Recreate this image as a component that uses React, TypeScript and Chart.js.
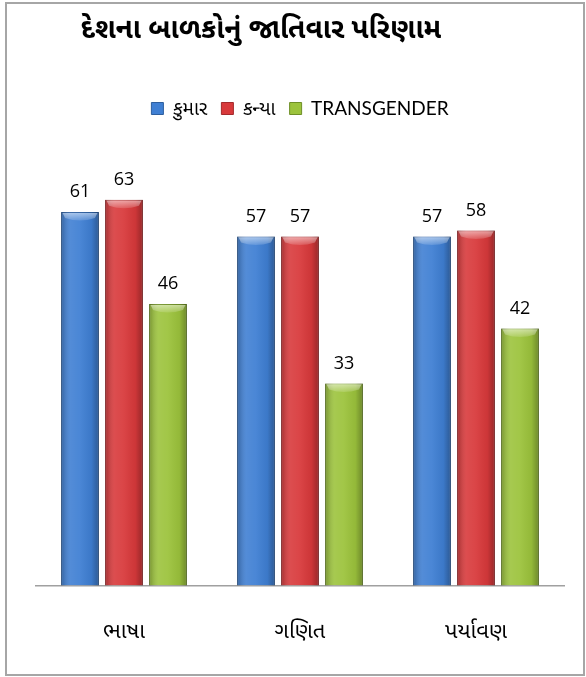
import React, { useEffect, useRef } from "react";
import { Chart, registerables } from "chart.js";

Chart.register(...registerables);

const titleText = "દેશના બાળકોનું જાતિવાર પરિણામ";
const categories = ["ભાષા", "ગણિત", "પર્યાવણ"];
const seriesLabels = ["કુમાર", "કન્યા", "TRANSGENDER"];
const boys = [61, 57, 57];
const girls = [63, 57, 58];
const transgender = [46, 33, 42];
const seriesColors = ["#3f7fd3", "#d8393b", "#9cc33c"];
const seriesBorders = ["#2d5e9e", "#a32a2c", "#6f8f27"];

const FONT = "'Noto Sans Gujarati', 'Lohit Gujarati', 'Noto Sans', 'Open Sans', sans-serif";
const LEGEND_FONT = "Lato, 'Noto Sans Gujarati', 'Lohit Gujarati', sans-serif";

const titlePlugin = {
  id: "customTitle",
  beforeInit(chart: any) {
    const legend = chart.legend;
    if (legend) {
      const origFit = legend.fit;
      legend.fit = function () {
        origFit.call(this);
        this.height += 29;
      };
    }
  },
  afterDraw(chart: any) {
    const ctx = chart.ctx;
    ctx.save();
    ctx.font = `bold 28px ${FONT}`;
    ctx.fillStyle = "#000";
    ctx.textAlign = "center";
    ctx.textBaseline = "middle";
    ctx.fillText(titleText, 261, 33);
    ctx.restore();
  },
};

const barStylePlugin = {
  id: "barStyle",
  afterDatasetsDraw(chart: any) {
    const ctx = chart.ctx;
    ctx.save();
    chart.data.datasets.forEach((ds: any, i: number) => {
      const meta = chart.getDatasetMeta(i);
      meta.data.forEach((bar: any) => {
        const { x, y, base, width } = bar.getProps(["x", "y", "base", "width"], true);
        const left = x - width / 2;
        const right = x + width / 2;
        const g = ctx.createLinearGradient(left, 0, right, 0);
        g.addColorStop(0, "rgba(0,0,0,0.25)");
        g.addColorStop(0.25, "rgba(255,255,255,0.10)");
        g.addColorStop(0.5, "rgba(255,255,255,0.06)");
        g.addColorStop(0.8, "rgba(0,0,0,0.05)");
        g.addColorStop(1, "rgba(0,0,0,0.3)");
        ctx.fillStyle = g;
        ctx.fillRect(left, y, width, base - y);
        const cg = ctx.createLinearGradient(0, y, 0, y + 10);
        cg.addColorStop(0, "rgba(255,255,255,0.55)");
        cg.addColorStop(1, "rgba(255,255,255,0.05)");
        ctx.fillStyle = cg;
        ctx.beginPath();
        ctx.moveTo(left + 1.5, y + 1);
        ctx.lineTo(right - 1.5, y + 1);
        ctx.lineTo(right - 4, y + 6);
        ctx.quadraticCurveTo(x, y + 11, left + 4, y + 6);
        ctx.closePath();
        ctx.fill();
      });
    });
    ctx.restore();
  },
  afterDraw(chart: any) {
    const ctx = chart.ctx;
    ctx.save();
    ctx.font = `18px 'Open Sans', sans-serif`;
    ctx.fillStyle = "#000";
    ctx.textAlign = "center";
    ctx.textBaseline = "middle";
    chart.data.datasets.forEach((ds: any, i: number) => {
      const meta = chart.getDatasetMeta(i);
      meta.data.forEach((bar: any, j: number) => {
        const { x, y } = bar.getProps(["x", "y"], true);
        ctx.fillText(String(ds.data[j]), x, y - 20);
      });
    });
    ctx.restore();
  },
};

export default function App() {
  const ref = useRef<HTMLCanvasElement | null>(null);
  useEffect(() => {
    document.body.style.margin = "0";
    if (!ref.current) return;
    const seriesData = [boys, girls, transgender];
    const chart = new Chart(ref.current, {
      type: "bar",
      data: {
        labels: categories,
        datasets: seriesLabels.map((label, i) => ({
          label,
          data: seriesData[i],
          backgroundColor: seriesColors[i],
          borderColor: seriesBorders[i],
          borderWidth: 1,
          categoryPercentage: 0.75,
          barPercentage: 0.86,
        })),
      },
      options: {
        animation: false,
        responsive: false,
        layout: { padding: { left: 36, right: 22, top: 85, bottom: -5 } },
        plugins: {
          title: { display: false },
          tooltip: { enabled: false },
          legend: {
            display: true,
            position: "top",
            labels: {
              boxWidth: 12,
              boxHeight: 12,
              padding: 14,
              color: "#000",
              font: { size: 19, family: LEGEND_FONT },
            },
          },
        },
        scales: {
          x: {
            grid: { display: false, drawTicks: false },
            border: { display: true, color: "#a0a0a0", width: 1.5 },
            ticks: { color: "#000", padding: 35, font: { size: 22, family: FONT } },
          },
          y: {
            display: false,
            min: 0,
            max: 70,
          },
        },
      },
      plugins: [titlePlugin, barStylePlugin],
    });
    return () => chart.destroy();
  }, []);

  return (
    <div style={{ position: "relative", width: 586, height: 677, background: "#fff" }}>
      <div
        style={{
          position: "absolute",
          left: 5,
          top: 2,
          width: 576,
          height: 670,
          border: "2px solid #a6a6a6",
          boxSizing: "content-box",
        }}
      />
      <canvas ref={ref} width={586} height={677} style={{ position: "absolute", left: 0, top: 0 }} />
    </div>
  );
}
